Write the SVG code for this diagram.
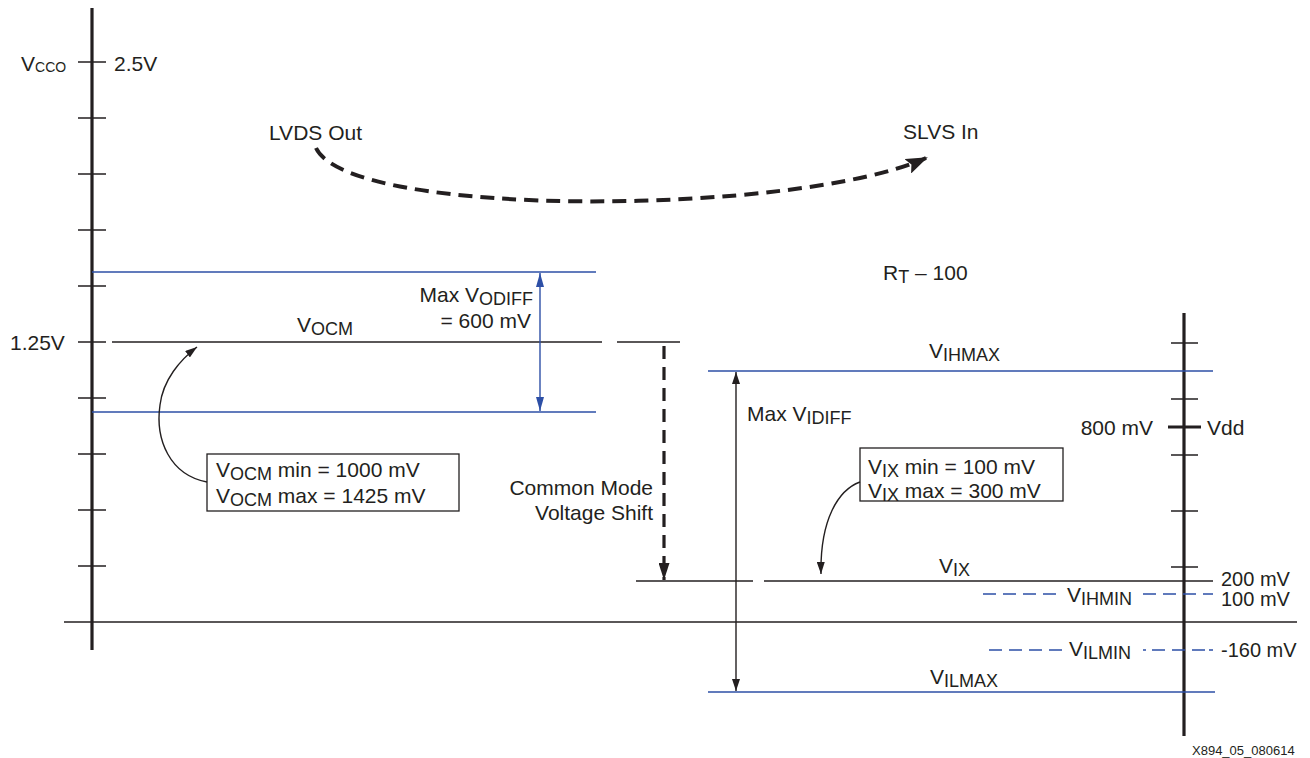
<svg xmlns="http://www.w3.org/2000/svg" width="1310" height="758" viewBox="0 0 1310 758">
<style>
text{font-family:"Liberation Sans",Arial,sans-serif;font-size:21px;fill:#231f20}
.sub{font-size:18px}
.sm{font-size:20px}
.k{stroke:#231f20;stroke-width:1.4;fill:none}
.b{stroke:#2d4fa6;stroke-width:1.4;fill:none}
.bd{stroke:#2d4fa6;stroke-width:1.4;fill:none;stroke-dasharray:13 7}
.ax{stroke:#231f20;stroke-width:3.2;fill:none}
.th{stroke:#231f20;stroke-width:4;fill:none;stroke-dasharray:14 8}
</style>
<defs>
<marker id="ah" viewBox="0 0 12 8" refX="12" refY="4" markerWidth="12" markerHeight="8" markerUnits="userSpaceOnUse" orient="auto-start-reverse"><path d="M0,0 L12,4 L0,8 Z" fill="#231f20"/></marker>
<marker id="ahb" viewBox="0 0 14 8" refX="14" refY="4" markerWidth="14" markerHeight="8" markerUnits="userSpaceOnUse" orient="auto-start-reverse"><path d="M0,0 L14,4 L0,8 Z" fill="#2d4fa6"/></marker>
<marker id="ahk" viewBox="0 0 22 16" refX="20" refY="8" markerWidth="22" markerHeight="16" markerUnits="userSpaceOnUse" orient="auto"><path d="M0,0 L22,8 L0,16 L4,8 Z" fill="#231f20"/></marker>
<marker id="ahd" viewBox="0 0 17 11" refX="17" refY="5.5" markerWidth="17" markerHeight="11" markerUnits="userSpaceOnUse" orient="auto"><path d="M0,0 L17,5.5 L0,11 Z" fill="#231f20"/></marker>
</defs>

<g id="left-axis">
<line class="ax" x1="92" y1="8" x2="92" y2="650"/>
<path class="k" d="M78,62H106M78,118H106M78,174H106M78,230H106M78,286H106M78,342H106M78,398H106M78,454H106M78,510H106M78,566H106"/>
<text x="21" y="71">V<tspan style="font-size:14px" dy="1">CCO</tspan></text>
<text x="114" y="71">2.5V</text>
<text x="10" y="350">1.25V</text>
</g>

<g id="zero-line"><line class="k" x1="64" y1="622" x2="1297" y2="622"/></g>

<g id="right-axis">
<line class="ax" x1="1184" y1="313" x2="1184" y2="736"/>
<path class="k" d="M1171,343H1198M1171,399H1198M1171,455H1198M1171,511H1198M1171,567H1198"/>
<line x1="1168" y1="427" x2="1201" y2="427" stroke="#231f20" stroke-width="3.2"/>
<text x="1153" y="435" text-anchor="end">800 mV</text>
<text x="1207" y="435">Vdd</text>
</g>

<g id="lvds-out"><text x="269" y="140">LVDS Out</text></g>
<g id="slvs-in"><text x="903" y="139">SLVS In</text></g>
<g id="rt"><text x="883" y="280">R<tspan class="sub" dy="3">T</tspan><tspan dy="-3"> – 100</tspan></text></g>

<g id="vocm-levels">
<line class="b" x1="92" y1="272" x2="596" y2="272"/>
<line class="b" x1="92" y1="412" x2="596" y2="412"/>
<line class="k" x1="112" y1="342" x2="602" y2="342"/>
<line class="k" x1="617" y1="342" x2="680" y2="342"/>
<text x="297" y="332">V<tspan class="sub" dy="3">OCM</tspan></text>
<text x="533" y="302" text-anchor="end">Max V<tspan class="sub" dy="3">ODIFF</tspan></text>
<text x="531" y="328" text-anchor="end">= 600 mV</text>
</g>

<g id="vocm-box">
<rect x="207" y="454" width="252" height="57" fill="#fff" stroke="#231f20" stroke-width="1.3"/>
<text x="216" y="477">V<tspan class="sub" dy="3">OCM</tspan><tspan dy="-3"> min = 1000 mV</tspan></text>
<text x="216" y="503">V<tspan class="sub" dy="3">OCM</tspan><tspan dy="-3"> max = 1425 mV</tspan></text>
</g>

<g id="common-mode">
<text x="653" y="495" text-anchor="end">Common Mode</text>
<text x="653" y="520" text-anchor="end">Voltage Shift</text>
</g>

<g id="vi-levels">
<line class="b" x1="708" y1="371" x2="1213" y2="371"/>
<line class="b" x1="708" y1="692" x2="1215" y2="692"/>
<line class="k" x1="636" y1="581" x2="753" y2="581"/>
<line class="k" x1="764" y1="581" x2="1213" y2="581"/>
<text x="929" y="358">V<tspan class="sub" dy="3">IHMAX</tspan></text>
<text x="747" y="421">Max V<tspan class="sub" dy="3">IDIFF</tspan></text>
<text x="939" y="573">V<tspan class="sub" dy="3">IX</tspan></text>
<text x="930" y="684">V<tspan class="sub" dy="3">ILMAX</tspan></text>
<text class="sm" x="1221" y="586">200 mV</text>
<path class="bd" d="M983,594H1063M1143,594H1213"/>
<text x="1067" y="602">V<tspan class="sub" dy="3">IHMIN</tspan></text>
<text class="sm" x="1221" y="606">100 mV</text>
<path class="bd" d="M989,650H1063"/>
<path class="b" d="M1143,650H1146M1152,650H1165M1172,650H1185M1192,650H1205M1209,650H1213"/>
<text x="1069" y="656">V<tspan class="sub" dy="3">ILMIN</tspan></text>
<text class="sm" x="1221" y="657">-160 mV</text>
</g>

<g id="vix-box">
<rect x="860" y="448" width="203" height="53" fill="#fff" stroke="#231f20" stroke-width="1.3"/>
<text x="868" y="474">V<tspan class="sub" dy="3">IX</tspan><tspan dy="-3"> min = 100 mV</tspan></text>
<text x="868" y="498">V<tspan class="sub" dy="3">IX</tspan><tspan dy="-3"> max = 300 mV</tspan></text>
</g>

<g id="figure-id"><text x="1192" y="755" style="font-size:13px">X894_05_080614</text></g>

<g id="connectors">
<path class="th" d="M316,148 C350,220 800,215 926,158" marker-end="url(#ahk)"/>
<line class="b" x1="540" y1="273" x2="540" y2="411" marker-start="url(#ahb)" marker-end="url(#ahb)"/>
<line x1="664" y1="346" x2="664" y2="580" stroke="#231f20" stroke-width="3.2" stroke-dasharray="13 8" marker-end="url(#ahd)"/>
<line class="k" x1="736" y1="372" x2="736" y2="691" marker-start="url(#ah)" marker-end="url(#ah)"/>
<path class="k" d="M207,482 C170,475 155,440 160,405 C163,380 180,360 197,347" marker-end="url(#ah)"/>
<path class="k" d="M860,482 C838,490 820,520 821,574" marker-end="url(#ah)"/>
</g>
</svg>
